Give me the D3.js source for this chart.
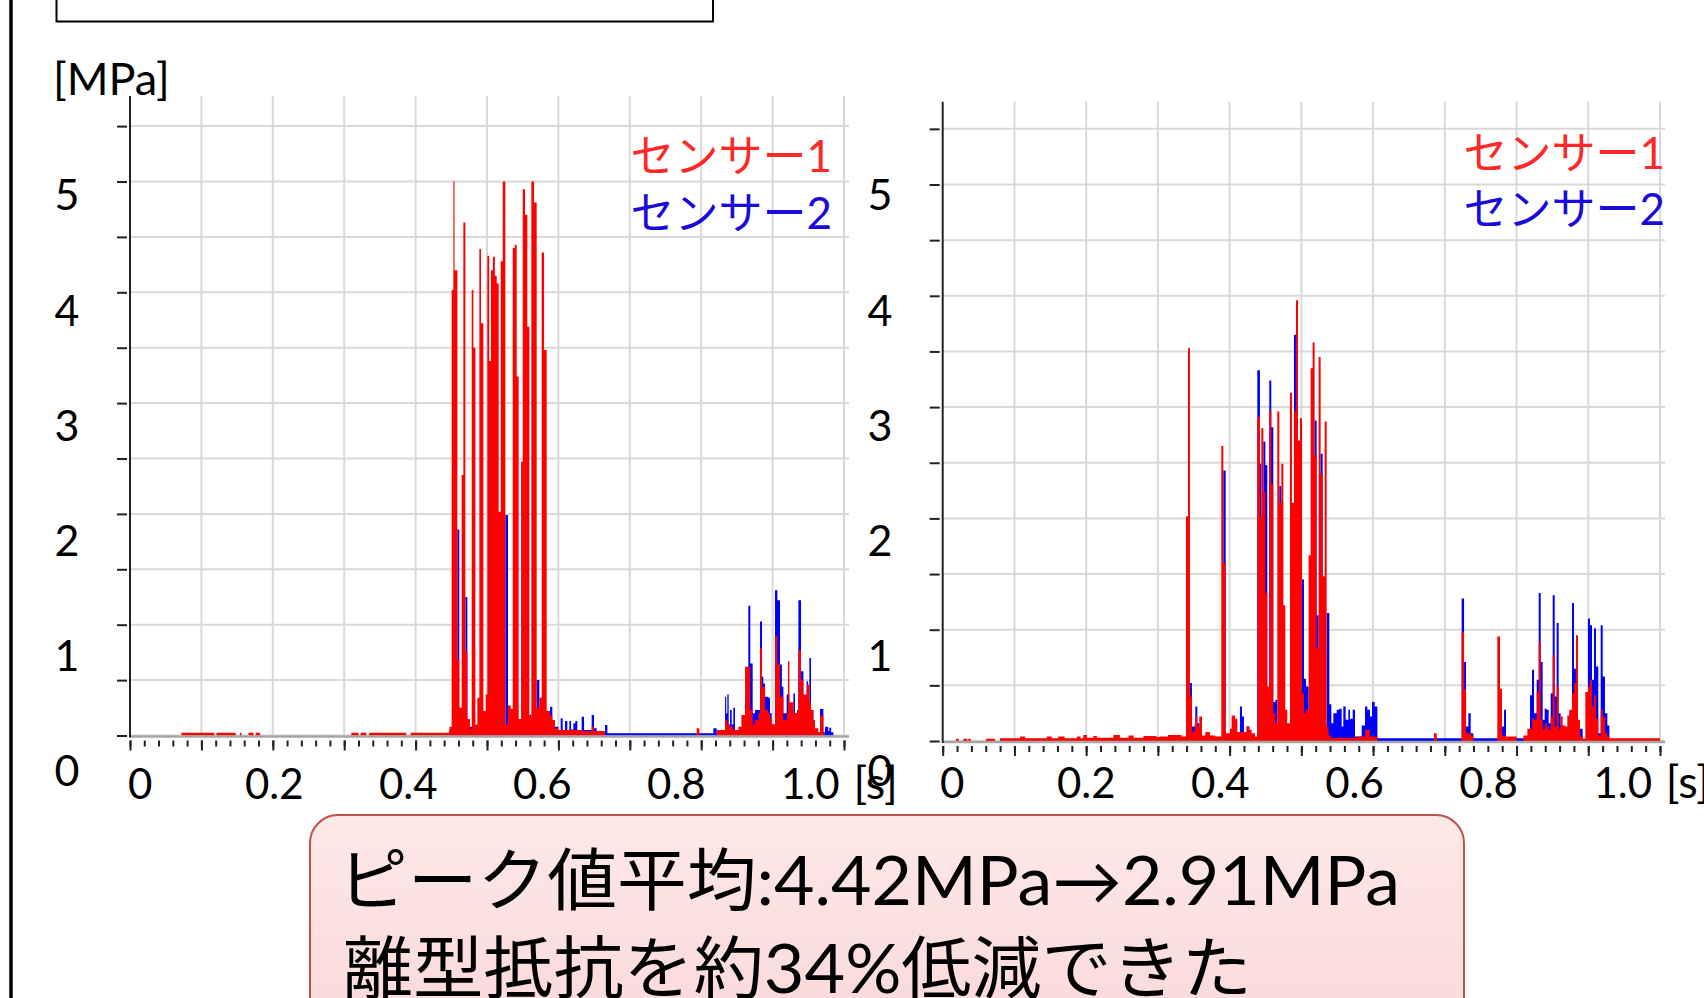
<!DOCTYPE html>
<html>
<head>
<meta charset="utf-8">
<script src="https://cdn.jsdelivr.net/npm/d3@7"></script>
<style>
  html, body { margin: 0; padding: 0; background: #fff; overflow: hidden; }
  svg { display: block; }
  text { font-family: Lato, "Noto Sans CJK JP", sans-serif; }
</style>
</head>
<body>
<svg id="chart" width="1704" height="998"></svg>
<script>
// pressure readings, [time s, MPa], each value holds until the next time (step)
const leftSensor1 = [
  [0, 0],
  [0.072, 0.025], [0.118, 0], [0.121, 0.025], [0.148, 0], [0.154, 0.025], [0.156, 0],
  [0.166, 0.025], [0.173, 0], [0.176, 0.025], [0.182, 0],
  [0.310, 0.025], [0.320, 0], [0.323, 0.025], [0.331, 0], [0.335, 0.025], [0.387, 0],
  [0.393, 0.025], [0.4473, 0.08],
  [0.4505, 4.02], [0.4529, 5.0], [0.4545, 4.2], [0.4585, 0.69], [0.4612, 0.25], [0.4645, 2.35],
  [0.4669, 4.63], [0.4697, 0.76], [0.4725, 0.15], [0.4762, 0.06], [0.4786, 4.02], [0.4809, 3.5],
  [0.4837, 0.1], [0.4865, 0.34], [0.4893, 4.39], [0.4916, 3.72], [0.4949, 0.22], [0.4981, 0.37],
  [0.5005, 4.33], [0.5030, 3.38], [0.5055, 4.2], [0.5083, 4.32], [0.5110, 4.15], [0.5136, 4.08],
  [0.5164, 2.02], [0.5192, 4.28], [0.5220, 5.0], [0.5257, 0.1], [0.5294, 0.27], [0.5332, 0.24],
  [0.5360, 4.4], [0.5388, 4.43], [0.5416, 3.24], [0.5444, 0.15], [0.5477, 2.47], [0.5500, 4.93],
  [0.5532, 4.7], [0.5565, 3.69], [0.5593, 0.17], [0.5621, 5.0], [0.5659, 4.81], [0.5696, 0.25],
  [0.5733, 0.34], [0.5766, 4.36], [0.5799, 3.48], [0.5836, 0.22], [0.5883, 0.18], [0.5915, 0.14],
  [0.5952, 0.065], [0.5999, 0.05], [0.6153, 0.05], [0.6326, 0.04], [0.6466, 0.08], [0.6499, 0.04],
  [0.6653, 0],
  [0.7937, 0.065], [0.7974, 0],
  [0.8217, 0.05], [0.8334, 0.14], [0.8366, 0.1], [0.8404, 0.08], [0.8450, 0.05], [0.8520, 0.08],
  [0.8567, 0.185], [0.8614, 0.62], [0.8688, 0.23], [0.8721, 0.1], [0.8754, 0.14], [0.8800, 0.2],
  [0.8824, 0.79], [0.8852, 0.44], [0.8894, 0.23], [0.8940, 0.2], [0.8964, 0.155], [0.8987, 0.1],
  [0.9034, 0.9], [0.9067, 0.64], [0.9104, 0.35], [0.9151, 0.14], [0.9197, 0.2], [0.9215, 0.67],
  [0.9235, 0.3], [0.9291, 0.2], [0.9340, 0.23], [0.9361, 0.77], [0.9398, 0.5], [0.9431, 0.37],
  [0.9477, 0.46], [0.9515, 0.3], [0.9538, 0.23], [0.9571, 0.14], [0.9594, 0.065], [0.9641, 0.03],
  [0.9664, 0.18], [0.9711, 0.02], [0.9734, 0]
];

const leftSensor2 = [
  [0, 0],
  [0.4473, 0.04], [0.4585, 1.86], [0.4612, 0.05], [0.4697, 1.25], [0.4725, 0.1], [0.4762, 0.08],
  [0.4837, 0.08], [0.5257, 1.99], [0.5294, 0.1], [0.5593, 0.19], [0.5621, 0.1], [0.5696, 0.5],
  [0.5733, 0.1], [0.5836, 0.22], [0.5883, 0.26], [0.5915, 0.14], [0.5952, 0.08], [0.5999, 0.05],
  [0.6032, 0.155], [0.6060, 0.05], [0.6093, 0.13], [0.6125, 0.04], [0.6153, 0.13], [0.6177, 0.055],
  [0.6209, 0.11], [0.6237, 0.13], [0.6265, 0.04], [0.6326, 0.17], [0.6359, 0.05], [0.6466, 0.185],
  [0.6499, 0.065], [0.6536, 0.035], [0.6653, 0.095], [0.6686, 0.02],
  [0.8170, 0.065], [0.8217, 0.02], [0.8301, 0.05], [0.8334, 0.35], [0.8350, 0.2], [0.8366, 0.37],
  [0.8385, 0.1], [0.8404, 0.23], [0.8427, 0.1], [0.8450, 0.25], [0.8473, 0.05], [0.8567, 0.185],
  [0.8614, 0.3], [0.8660, 1.17], [0.8688, 0.65], [0.8721, 0.2], [0.8754, 0.23], [0.8800, 0.23],
  [0.8824, 1.03], [0.8852, 0.53], [0.8870, 0.47], [0.8894, 0.35], [0.8940, 0.34], [0.8964, 0.2],
  [0.8987, 0.1], [0.9034, 1.31], [0.9067, 1.22], [0.9104, 0.64], [0.9130, 0.44], [0.9151, 0.2],
  [0.9197, 0.37], [0.9235, 0.2], [0.9291, 0.38], [0.9314, 0.2], [0.9361, 1.22], [0.9398, 0.58],
  [0.9431, 0.35], [0.9477, 0.49], [0.9496, 0.3], [0.9515, 0.7], [0.9538, 0.23], [0.9571, 0.08],
  [0.9594, 0.03], [0.9664, 0.24], [0.9711, 0.03], [0.9734, 0.08], [0.9780, 0.04], [0.9795, 0.07],
  [0.9820, 0.03], [0.9851, 0]
];

const rightSensor1 = [
  [0, 0],
  [0.0186, 0.02], [0.0223, 0], [0.0288, 0.02], [0.0344, 0], [0.0357, 0.02], [0.0390, 0],
  [0.0604, 0.02], [0.0729, 0], [0.0799, 0.025], [0.1078, 0.04], [0.1150, 0.025], [0.1450, 0.04],
  [0.1520, 0.025], [0.1610, 0.04], [0.1700, 0.025], [0.1870, 0.04], [0.1920, 0.025], [0.1960, 0.055],
  [0.2010, 0.03], [0.2100, 0.045], [0.2150, 0.03], [0.2380, 0.055], [0.2470, 0.03], [0.2590, 0.05],
  [0.2660, 0.03], [0.2800, 0.045], [0.2980, 0.035], [0.3030, 0.04], [0.3140, 0.055], [0.3330, 0.04],
  [0.3392, 2.02], [0.3420, 3.53], [0.3447, 0.4], [0.3475, 0.08], [0.3512, 0.15], [0.3522, 0.22],
  [0.3550, 0.13], [0.3578, 0.22], [0.3615, 0.05], [0.3661, 0.08], [0.3726, 0.05], [0.3801, 0.04],
  [0.3884, 2.65], [0.3912, 1.6], [0.3945, 0.07], [0.4005, 0.11], [0.4028, 0.23], [0.4075, 0.2],
  [0.4107, 0.08], [0.4237, 0.13], [0.4275, 0.1], [0.4307, 0.07], [0.4354, 0.04],
  [0.4386, 2.91], [0.4423, 2.02], [0.4442, 2.81], [0.4470, 2.24], [0.4498, 1.33], [0.4525, 0.49],
  [0.4553, 2.97], [0.4581, 2.31], [0.4609, 0.25], [0.4637, 0.16], [0.4665, 2.96], [0.4693, 2.14],
  [0.4721, 2.49], [0.4749, 1.22], [0.4776, 0.28], [0.4804, 0.16], [0.4841, 3.13], [0.4869, 2.14],
  [0.4897, 2.96], [0.4925, 3.96], [0.4953, 2.7], [0.4981, 2.9], [0.5009, 0.43], [0.5037, 0.25],
  [0.5065, 0.28], [0.5102, 1.67], [0.5130, 3.35], [0.5157, 3.58], [0.5185, 2.57], [0.5213, 0.83],
  [0.5241, 3.45], [0.5269, 2.4], [0.5297, 1.48], [0.5325, 2.87], [0.5353, 0.13], [0.5380, 0.05],
  [0.5408, 0.03], [0.5771, 0.04], [0.5888, 0.1], [0.5957, 0.04], [0.6060, 0],
  [0.6849, 0.07], [0.6887, 0],
  [0.7235, 0.98], [0.7268, 0.46], [0.7296, 0.07], [0.7361, 0.05], [0.7398, 0],
  [0.7732, 0.94], [0.7770, 0.47], [0.7797, 0.05], [0.7853, 0.04], [0.7932, 0.04], [0.8002, 0],
  [0.8095, 0.05], [0.8151, 0.11], [0.8216, 0.2], [0.8244, 0.19], [0.8281, 0.44], [0.8309, 0.89],
  [0.8337, 0.19], [0.8364, 0.1], [0.8392, 0.16], [0.8420, 0.13], [0.8448, 0.1], [0.8476, 0.22],
  [0.8504, 0.77], [0.8532, 0.13], [0.8559, 0.49], [0.8587, 0.11], [0.8615, 0.22], [0.8643, 0.14],
  [0.8680, 0.13], [0.8708, 0.23], [0.8736, 0.28], [0.8773, 0.43], [0.8801, 0.52], [0.8829, 0.95],
  [0.8857, 0.19], [0.8885, 0.04], [0.8922, 0.02], [0.8959, 0.44], [0.8996, 0.49], [0.9024, 0.55],
  [0.9052, 0.31], [0.9080, 0.41], [0.9108, 0.2], [0.9140, 0.05], [0.9173, 0.28], [0.9201, 0.22],
  [0.9233, 0.07], [0.9266, 0.04], [0.9294, 0.024], [1.0, 0.024]
];

const rightSensor2 = [
  [0, 0],
  [0.2286, 0.02], [0.2330, 0],
  [0.3447, 0.52], [0.3475, 0.13], [0.3522, 0.31], [0.3550, 0.16], [0.3578, 0.05], [0.3615, 0],
  [0.3912, 2.43], [0.3945, 0.03], [0.4005, 0],
  [0.4144, 0.31], [0.4172, 0.22], [0.4200, 0.05], [0.4237, 0.13], [0.4275, 0.03], [0.4307, 0.02],
  [0.4386, 3.33], [0.4423, 2.49], [0.4442, 0.1], [0.4470, 2.69], [0.4498, 2.48], [0.4525, 0.1],
  [0.4553, 3.24], [0.4581, 2.82], [0.4609, 0.35], [0.4637, 0.37], [0.4665, 0.1], [0.4693, 2.29],
  [0.4721, 0.1], [0.4897, 3.65], [0.4925, 0.1], [0.5009, 1.45], [0.5037, 0.56], [0.5065, 0.49],
  [0.5102, 0.1], [0.5185, 2.88], [0.5213, 1.13], [0.5241, 0.1], [0.5269, 2.58], [0.5297, 0.1],
  [0.5353, 1.15], [0.5390, 0.33], [0.5418, 0.16], [0.5446, 0.25], [0.5493, 0.28], [0.5530, 0.29],
  [0.5562, 0.13], [0.5585, 0.31], [0.5618, 0.19], [0.5655, 0.28], [0.5678, 0.2], [0.5716, 0.28],
  [0.5748, 0.04], [0.5841, 0.14], [0.5888, 0.31], [0.5920, 0.28], [0.5957, 0.22], [0.5985, 0.35],
  [0.6022, 0.31], [0.6060, 0.024],
  [0.7235, 1.28], [0.7268, 0.71], [0.7296, 0.13], [0.7328, 0.25], [0.7361, 0.07], [0.7398, 0.024],
  [0.7797, 0.13], [0.7825, 0.28], [0.7853, 0.024],
  [0.8188, 0.41], [0.8216, 0.64], [0.8244, 0.25], [0.8281, 0.55], [0.8309, 1.33], [0.8337, 0.71],
  [0.8364, 0.19], [0.8392, 0.29], [0.8420, 0.28], [0.8448, 0.16], [0.8476, 0.43], [0.8504, 1.31],
  [0.8532, 0.4], [0.8559, 1.06], [0.8587, 0.25], [0.8615, 0.14], [0.8643, 0.05], [0.8736, 0.25],
  [0.8773, 1.24], [0.8801, 0.65], [0.8829, 0.43], [0.8857, 0.1], [0.8885, 0.11], [0.8922, 0.02],
  [0.8996, 1.1], [0.9024, 1.04], [0.9052, 0.55], [0.9080, 1.01], [0.9108, 0.67], [0.9140, 0.07],
  [0.9173, 1.04], [0.9201, 0.58], [0.9233, 0.25], [0.9266, 0.14], [0.9294, 0]
];

const yGridValues = d3.range(0, 5.51, 0.5);
const yLabelValues = [0, 1, 2, 3, 4, 5];
const xGridValues = d3.range(1, 11).map((i) => i / 10);
const xMinorTicks = d3.range(0, 51).map((i) => i / 50);
const xMajorTicks = d3.range(0, 11).map((i) => i / 10);
const xLabelValues = [0, 0.2, 0.4, 0.6, 0.8, 1.0];
const legendNames = ["センサー1", "センサー2"];
const captionLines = ["ピーク値平均:4.42MPa→2.91MPa", "離型抵抗を約34%低減できた"];

const RED = "#ff0000";
const BLUE = "#0000ff";

const svg = d3.select("#chart");

// page frame leftovers
svg.append("line")
  .attr("x1", 11).attr("x2", 11).attr("y1", 0).attr("y2", 998)
  .attr("stroke", "#000").attr("stroke-width", 3.5);

svg.append("rect")
  .attr("x", 56.5).attr("y", -10).attr("width", 656.5).attr("height", 31.5)
  .attr("fill", "#fff").attr("stroke", "#000").attr("stroke-width", 2);

svg.append("text")
  .attr("x", 53).attr("y", 95)
  .attr("font-size", 45)
  .text("[MPa]");

function drawPanel(p) {
  const g = svg.append("g");

  const x = d3.scaleLinear().domain([0, 1]).range([p.x0, p.x1]);
  const y = d3.scaleLinear().domain([0, 5]).range([p.y0, p.y5]);
  const xLab = d3.scaleLinear().domain([0, 1]).range(p.labelX);
  const yLab = d3.scaleLinear().domain([0, 5]).range([770.7, 195]);

  // grid
  g.append("g").selectAll("line").data(yGridValues).join("line")
    .attr("x1", p.x0).attr("x2", p.x1 + 5)
    .attr("y1", (d) => y(d)).attr("y2", (d) => y(d))
    .attr("stroke", "#d9d9d9").attr("stroke-width", 2);

  g.append("g").selectAll("line").data(xGridValues).join("line")
    .attr("x1", (d) => x(d)).attr("x2", (d) => x(d))
    .attr("y1", p.y0).attr("y2", p.gridTop)
    .attr("stroke", "#d9d9d9").attr("stroke-width", 2);

  // series, sensor 2 underneath
  const area = d3.area()
    .curve(d3.curveStepAfter)
    .x((d) => x(d[0]))
    .y0(p.y0)
    .y1((d) => y(d[1]));

  g.append("path").datum(p.sensor2).attr("d", area).attr("fill", BLUE);
  g.append("path").datum(p.sensor1).attr("d", area).attr("fill", RED);

  // x axis
  g.append("line")
    .attr("x1", p.x0).attr("x2", p.x1 + 5)
    .attr("y1", p.y0 + 1).attr("y2", p.y0 + 1)
    .attr("stroke", "#a6a6a6").attr("stroke-width", 2.5);

  const minor = g.append("g")
    .attr("transform", `translate(0,${p.y0 + 5})`)
    .call(d3.axisBottom(x).tickValues(xMinorTicks).tickSize(6).tickFormat(""));
  const major = g.append("g")
    .attr("transform", `translate(0,${p.y0 + 5})`)
    .call(d3.axisBottom(x).tickValues(xMajorTicks).tickSize(10).tickFormat(""));
  [minor, major].forEach((a) => {
    a.select(".domain").remove();
    a.selectAll(".tick line").attr("stroke", "#222").attr("stroke-width", 2);
  });

  // y axis
  g.append("line")
    .attr("x1", p.x0).attr("x2", p.x0)
    .attr("y1", p.y0 + 2).attr("y2", p.gridTop)
    .attr("stroke", "#222").attr("stroke-width", 2);

  const yAxis = g.append("g")
    .attr("transform", `translate(${p.x0 - 3},0)`)
    .call(d3.axisLeft(y).tickValues(yGridValues).tickSize(10).tickFormat(""));
  yAxis.select(".domain").remove();
  yAxis.selectAll(".tick line").attr("stroke", "#222").attr("stroke-width", 2);

  // labels
  g.append("g").selectAll("text").data(yLabelValues).join("text")
    .attr("x", p.yLabelX).attr("y", (d) => yLab(d))
    .attr("dy", "0.36em")
    .attr("text-anchor", "middle")
    .attr("font-size", 43)
    .text((d) => d);

  g.append("g").selectAll("text").data(xLabelValues).join("text")
    .attr("x", (d) => xLab(d)).attr("y", p.xLabelBase)
    .attr("text-anchor", "middle")
    .attr("font-size", 42)
    .text((d) => (d === 1 ? "1.0" : d));

  g.append("text")
    .attr("x", xLab(1) + 43).attr("y", p.xLabelBase)
    .attr("font-size", 45)
    .text("[s]");

  // legend
  g.append("g").selectAll("text").data(legendNames).join("text")
    .attr("x", p.legendX)
    .attr("y", (d, i) => p.legendY[i])
    .attr("text-anchor", "end")
    .attr("font-size", 44)
    .attr("fill", (d, i) => (i === 0 ? "#ff2828" : "#1a0adc"))
    .text((d) => d);
}

drawPanel({
  x0: 130, x1: 844, y0: 735.5, y5: 181.5, gridTop: 96,
  labelX: [140.2, 810.4], yLabelX: 67, xLabelBase: 799,
  legendX: 832, legendY: [172, 229],
  sensor1: leftSensor1, sensor2: leftSensor2,
});

drawPanel({
  x0: 942.7, x1: 1660, y0: 741, y5: 184.5, gridTop: 101.7,
  labelX: [952.1, 1622.8], yLabelX: 880, xLabelBase: 798,
  legendX: 1665, legendY: [169, 225],
  sensor1: rightSensor1, sensor2: rightSensor2,
});

// conclusion box
const defs = svg.append("defs");
const grad = defs.append("linearGradient")
  .attr("id", "pinkFill").attr("x1", 0).attr("x2", 0).attr("y1", 0).attr("y2", 1);
grad.append("stop").attr("offset", "0%").attr("stop-color", "#fde8e8");
grad.append("stop").attr("offset", "100%").attr("stop-color", "#fad6d6");

svg.append("rect")
  .attr("x", 310).attr("y", 815).attr("width", 1154).attr("height", 260)
  .attr("rx", 28).attr("ry", 28)
  .attr("fill", "url(#pinkFill)")
  .attr("stroke", "#c0504d").attr("stroke-width", 2);

svg.append("g").selectAll("text").data(captionLines).join("text")
  .attr("x", (d, i) => (i === 0 ? 338 : 343))
  .attr("y", (d, i) => 905 + i * 88)
  .attr("font-size", 68)
  .attr("textLength", (d, i) => (i === 0 ? 1062 : 909))
  .attr("lengthAdjust", "spacingAndGlyphs")
  .attr("fill", "#000")
  .text((d) => d);
</script>
</body>
</html>
